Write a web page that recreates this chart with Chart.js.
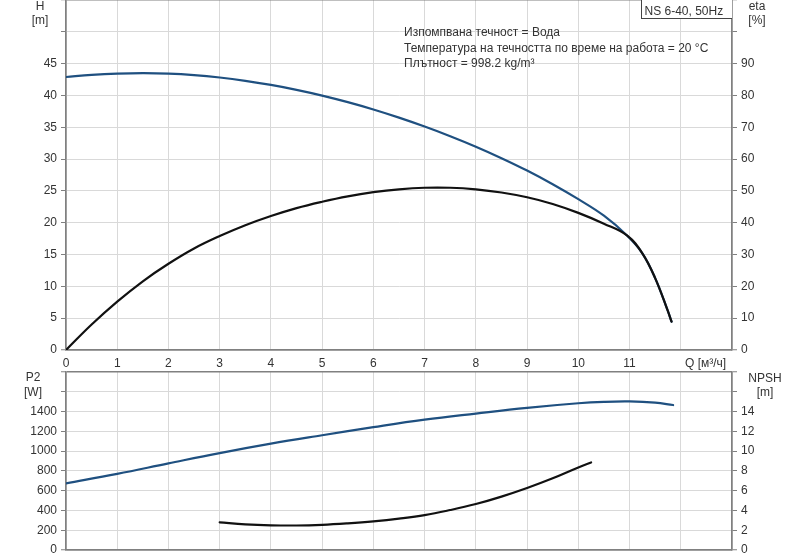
<!DOCTYPE html>
<html>
<head>
<meta charset="utf-8">
<script src="https://cdn.jsdelivr.net/npm/chart.js@4.4.1/dist/chart.umd.min.js"></script>
<style>
  html, body { margin: 0; padding: 0; background: #fff; width: 800px; height: 560px; overflow: hidden; }
  .wrap { position: absolute; left: 0; width: 800px; }
  .lbl { position: absolute; font-family: 'Liberation Sans', Arial, sans-serif; font-size: 12px; line-height: 14px; color: #333; white-space: nowrap; }
  .c { transform: translateX(-50%); text-align: center; }
  #box { position: absolute; left: 641px; top: -1px; width: 91px; height: 20px; border: 1px solid #444; border-right: none; background: #fff; box-sizing: border-box; }
</style>
</head>
<body>
<div class="wrap" id="w1" style="top:-4px;height:376px;"><canvas id="c1" width="800" height="376"></canvas></div>
<div class="wrap" id="w2" style="top:368px;height:196px;"><canvas id="c2" width="800" height="196"></canvas></div>

<div class="lbl c" style="left:40px;top:-1.5px;">H</div>
<div class="lbl c" style="left:40px;top:12.5px;">[m]</div>
<div class="lbl c" style="left:757px;top:-1.5px;">eta</div>
<div class="lbl c" style="left:757px;top:12.5px;">[%]</div>
<div class="lbl c" style="left:33px;top:370px;">P2</div>
<div class="lbl c" style="left:33px;top:385px;">[W]</div>
<div class="lbl c" style="left:765px;top:371px;">NPSH</div>
<div class="lbl c" style="left:765px;top:385px;">[m]</div>
<div class="lbl" style="left:685px;top:356px;">Q [м³/ч]</div>
<div class="lbl" style="left:404px;top:25px;">Изпомпвана течност = Вода</div>
<div class="lbl" style="left:404px;top:40.5px;">Температура на течността по време на работа = 20 °C</div>
<div class="lbl" style="left:404px;top:56px;">Плътност = 998.2 kg/m³</div>
<div id="box"></div>
<div class="lbl" style="left:644.5px;top:4px;">NS 6-40, 50Hz</div>

<script>
// ---- Data ----
const qH   = [0, 0.5, 1, 1.5, 2, 2.5, 3, 3.5, 4, 4.5, 5, 5.5, 6, 6.5, 7, 7.5, 8, 8.5, 9, 9.5, 10, 10.5, 10.95, 11.25, 11.5, 11.74, 11.82];
const headH = [42.9, 43.22, 43.42, 43.5, 43.43, 43.2, 42.82, 42.3, 41.65, 40.88, 39.98, 38.95, 37.8, 36.52, 35.12, 33.6, 31.95, 30.15, 28.2, 26.05, 23.7, 21.1, 18.0, 15.2, 11.3, 6.3, 4.45];

const qEta = [0, 0.5, 1, 1.5, 2, 2.5, 3, 3.5, 4, 4.5, 5, 5.5, 6, 6.5, 7, 7.5, 8, 8.5, 9, 9.5, 10, 10.5, 10.95, 11.25, 11.5, 11.74, 11.82];
const eta  = [0, 8.0, 15.2, 21.6, 27.1, 31.9, 35.8, 39.2, 42.1, 44.6, 46.6, 48.3, 49.6, 50.5, 51.0, 51.0, 50.5, 49.5, 48.0, 45.9, 43.1, 39.7, 36.0, 30.4, 22.6, 12.6, 8.9];

const qP2  = [0, 1, 2, 3, 4, 5, 6, 7, 8, 9, 10, 10.5, 11, 11.5, 11.85];
const p2   = [674, 770, 876, 980, 1075, 1160, 1242, 1318, 1380, 1438, 1484, 1498, 1502, 1490, 1466];

const qNpsh = [3, 3.5, 4, 4.5, 5, 5.5, 6, 6.5, 7, 7.5, 8, 8.5, 9, 9.5, 10, 10.25];
const npsh  = [2.8, 2.6, 2.5, 2.48, 2.55, 2.7, 2.9, 3.17, 3.52, 4.04, 4.65, 5.4, 6.27, 7.25, 8.35, 8.85];

const qTicksMax = 11;     // last labelled Q tick
const hLabelMax = 45, etaLabelMax = 90, p2LabelMax = 1400, npshLabelMax = 14;

// ---- Styles ----
const FONT = { family: "'Liberation Sans', Arial, sans-serif", size: 12 };
const TXT = '#333';
const GRID = '#d9d9d9';
const AXIS = '#808080';
const BLUE = '#1f5080';
const BLACK = '#111';

const pts = (xs, ys) => xs.map((x, i) => ({ x, y: ys[i] }));

function gridColor(min, max) {
  return ctx => (ctx.tick && (ctx.tick.value === min || ctx.tick.value === max)) ? AXIS : GRID;
}
function gridWidth(min, max) {
  return ctx => (ctx.tick && (ctx.tick.value === min || ctx.tick.value === max)) ? 1.5 : 1;
}

function yAxis(pos, min, max, step, labelMax, fitW, drawArea) {
  return {
    type: 'linear', position: pos, min, max,
    afterFit: s => { s.width = fitW; },
    ticks: {
      stepSize: step, font: FONT, color: TXT, padding: 4,
      callback: v => v <= labelMax ? String(v) : []
    },
    grid: {
      drawOnChartArea: drawArea, color: gridColor(min, max), lineWidth: gridWidth(min, max),
      tickLength: 5, tickColor: AXIS, tickWidth: 1
    },
    border: { display: true, color: AXIS, width: 1.5 }
  };
}

function xAxis(showLabels, fitH) {
  return {
    type: 'linear', position: 'bottom', min: 0, max: 13,
    afterFit: s => { s.height = fitH; },
    ticks: {
      display: showLabels, stepSize: 1, autoSkip: false, maxRotation: 0,
      font: FONT, color: TXT, padding: 6,
      callback: v => v <= qTicksMax ? String(v) : []
    },
    grid: { drawTicks: false, color: gridColor(0, 13), lineWidth: gridWidth(0, 13) },
    border: { display: true, color: AXIS, width: 1.5 }
  };
}

const common = {
  responsive: false, animation: false, devicePixelRatio: 1,
  layout: { padding: 0 },
  plugins: { legend: { display: false }, tooltip: { enabled: false }, title: { display: false } },
  elements: { point: { radius: 0 }, line: { borderWidth: 2.2, tension: 0.4, borderCapStyle: 'round', borderJoinStyle: 'round' } }
};

new Chart(document.getElementById('c1'), {
  type: 'line',
  data: {
    datasets: [
      { label: 'eta', data: pts(qEta, eta), yAxisID: 'yEta', borderColor: BLACK, fill: false },
      { label: 'H', data: pts(qH, headH), yAxisID: 'yH', borderColor: BLUE, fill: false }
    ]
  },
  options: Object.assign({}, common, {
    scales: {
      x: xAxis(true, 22),
      yH: yAxis('left', 0, 55, 5, hLabelMax, 66, true),
      yEta: yAxis('right', 0, 110, 10, etaLabelMax, 68, false)
    }
  })
});

new Chart(document.getElementById('c2'), {
  type: 'line',
  data: {
    datasets: [
      { label: 'NPSH', data: pts(qNpsh, npsh), yAxisID: 'yN', borderColor: BLACK, fill: false },
      { label: 'P2', data: pts(qP2, p2), yAxisID: 'yP', borderColor: BLUE, fill: false }
    ]
  },
  options: Object.assign({}, common, {
    scales: {
      x: xAxis(false, 14),
      yP: yAxis('left', 0, 1800, 200, p2LabelMax, 66, true),
      yN: yAxis('right', 0, 18, 2, npshLabelMax, 68, false)
    }
  })
});
</script>
</body>
</html>
